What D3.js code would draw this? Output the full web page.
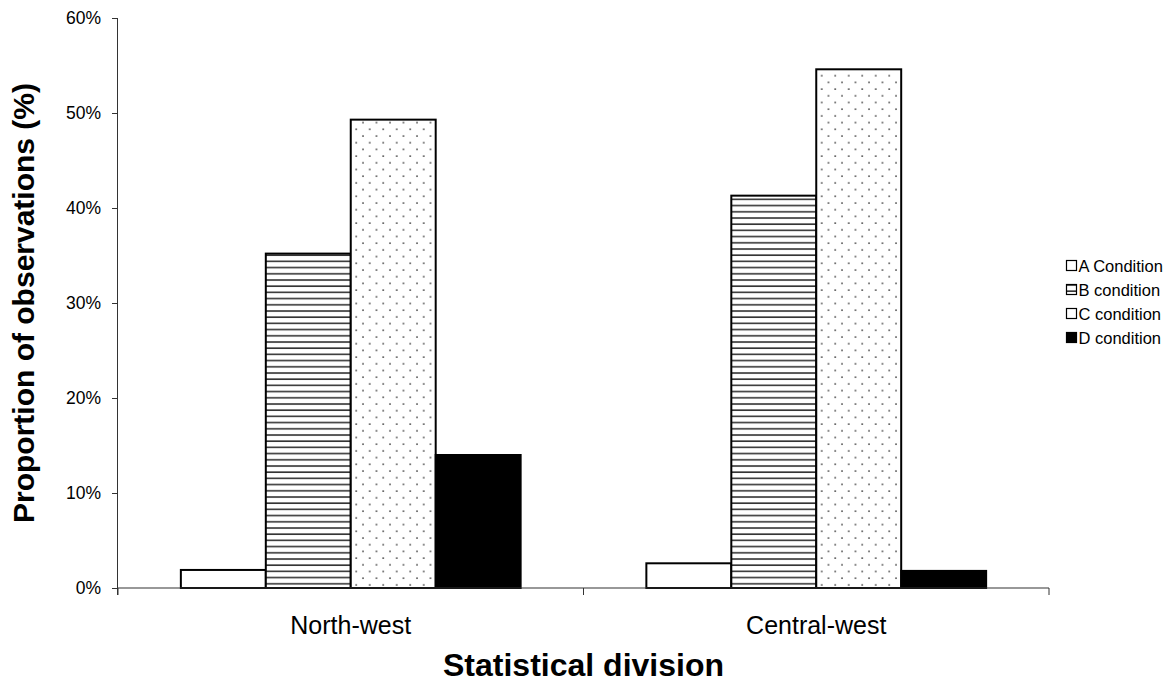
<!DOCTYPE html>
<html>
<head>
<meta charset="utf-8">
<script src="https://cdn.jsdelivr.net/npm/d3@7"></script>
<style>
  html, body { margin: 0; padding: 0; background: #fff; }
  svg { display: block; font-family: "Liberation Sans", Arial, sans-serif; }
</style>
</head>
<body>
<svg id="chart" width="1173" height="683"></svg>
<script>
// Survey results: share of observations in each condition class per division
const divisions = ["North-west", "Central-west"];
const conditions = ["A Condition", "B condition", "C condition", "D condition"];
const northWest = [1.9, 35.2, 49.3, 14.0];
const centralWest = [2.6, 41.3, 54.6, 1.8];
const yTicks = [0, 10, 20, 30, 40, 50, 60];

const svg = d3.select("#chart");
const defs = svg.append("defs");

// Horizontal stripes for B condition
const stripes = defs.append("pattern")
  .attr("id", "stripes").attr("patternUnits", "userSpaceOnUse")
  .attr("width", 8).attr("height", 6.2);
stripes.append("rect").attr("width", 8).attr("height", 6.2).attr("fill", "#fff");
stripes.append("line").attr("x1", 0).attr("x2", 8).attr("y1", 1).attr("y2", 1)
  .attr("stroke", "#333").attr("stroke-width", 1.6);

// Staggered dots for C condition
const dots = defs.append("pattern")
  .attr("id", "dots").attr("patternUnits", "userSpaceOnUse")
  .attr("width", 13.5).attr("height", 13.4);
dots.append("rect").attr("width", 13.5).attr("height", 13.4).attr("fill", "#fff");
dots.append("circle").attr("cx", 2).attr("cy", 2).attr("r", 0.9).attr("fill", "#333");
dots.append("circle").attr("cx", 8.75).attr("cy", 8.7).attr("r", 0.9).attr("fill", "#333");

const fills = ["#fff", "url(#stripes)", "url(#dots)", "#000"];

const plotLeft = 118, plotRight = 1049, plotTop = 18, plotBottom = 588;

const x0 = d3.scaleBand().domain(divisions).range([plotLeft, plotRight]).padding(0);
const x1 = d3.scaleBand().domain(conditions).range([0, x0.bandwidth()])
  .paddingInner(0).paddingOuter(0.74);
const y = d3.scaleLinear().domain([0, 60]).range([plotBottom, plotTop]);

const rows = divisions.map((d, i) => ({
  division: d,
  values: (i === 0 ? northWest : centralWest).map((v, j) => ({ key: conditions[j], value: v, idx: j }))
}));

// Bars
const groups = svg.append("g").selectAll("g").data(rows).join("g")
  .attr("transform", d => `translate(${x0(d.division)},0)`);
groups.selectAll("rect").data(d => d.values).join("rect")
  .attr("x", d => x1(d.key))
  .attr("width", x1.bandwidth())
  .attr("y", d => y(d.value))
  .attr("height", d => y(0) - y(d.value))
  .attr("fill", d => fills[d.idx])
  .attr("stroke", "#000")
  .attr("stroke-width", 2);

// Y axis
const yAxis = svg.append("g").attr("transform", `translate(${plotLeft},0)`)
  .call(d3.axisLeft(y).tickValues(yTicks).tickFormat(d => d + "%").tickSize(6).tickPadding(11));
yAxis.select(".domain").attr("stroke", "#333").attr("d", `M-0.5,${plotTop}V${plotBottom + 7}`);
yAxis.selectAll(".tick line").attr("stroke", "#333");
yAxis.selectAll(".tick text").attr("font-size", 17.5).attr("fill", "#000")
  .attr("font-family", "Liberation Sans, Arial, sans-serif");

// X axis: ticks at division boundaries
const xAxisG = svg.append("g").attr("transform", `translate(0,${plotBottom})`);
xAxisG.append("line").attr("x1", plotLeft).attr("x2", plotRight).attr("y1", 0).attr("y2", 0)
  .attr("stroke", "#333").attr("stroke-width", 1.2);
const boundaries = [plotLeft, ...divisions.map(d => x0(d) + x0.bandwidth())];
xAxisG.selectAll(".btick").data(boundaries).join("line")
  .attr("x1", d => d).attr("x2", d => d).attr("y1", 0).attr("y2", 7)
  .attr("stroke", "#333");
xAxisG.selectAll(".clabel").data(divisions).join("text")
  .attr("x", d => x0(d) + x0.bandwidth() / 2)
  .attr("y", 46)
  .attr("text-anchor", "middle")
  .attr("font-size", 25)
  .text(d => d);

// Axis titles
svg.append("text")
  .attr("x", (plotLeft + plotRight) / 2).attr("y", 676)
  .attr("text-anchor", "middle").attr("font-size", 32).attr("font-weight", "bold")
  .text("Statistical division");
svg.append("text")
  .attr("transform", `translate(34,${(plotTop + plotBottom) / 2}) rotate(-90)`)
  .attr("text-anchor", "middle").attr("font-size", 30).attr("font-weight", "bold")
  .text("Proportion of observations (%)");

// Legend
const legend = svg.append("g").attr("transform", "translate(1066,260)");
const items = legend.selectAll("g").data(conditions).join("g")
  .attr("transform", (d, i) => `translate(0,${i * 24})`);
items.append("rect").attr("x", 0.5).attr("y", 0.5).attr("width", 10).attr("height", 10)
  .attr("fill", (d, i) => fills[i] === "url(#dots)" ? "#fff" : fills[i])
  .attr("stroke", "#000").attr("stroke-width", 1.2);
items.append("text").attr("x", 12.5).attr("y", 11.5).attr("font-size", 16.5).text(d => d);
</script>
</body>
</html>
